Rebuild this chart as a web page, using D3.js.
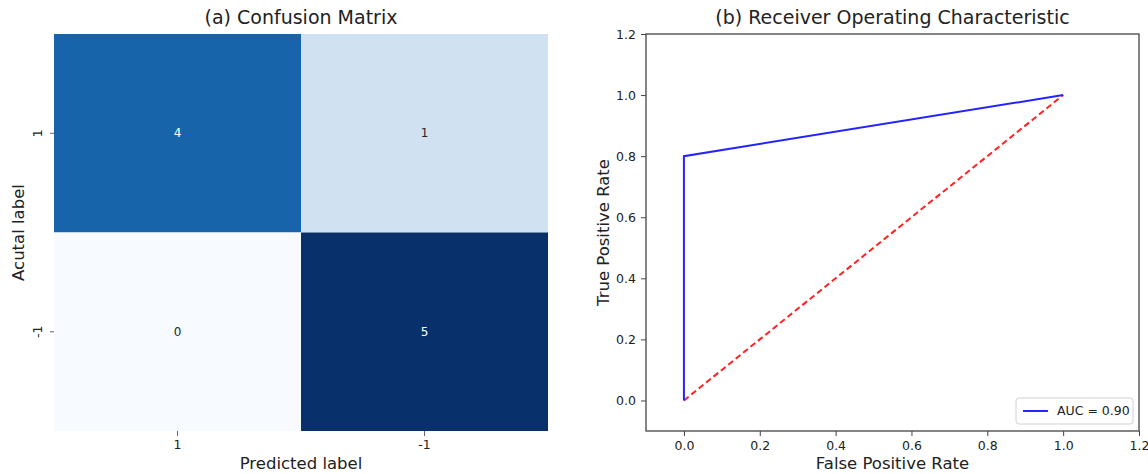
<!DOCTYPE html>
<html>
<head>
<meta charset="utf-8">
<script src="https://cdn.jsdelivr.net/npm/d3@7"></script>
<style>
  body { margin: 0; background: #fff; }
  svg { display: block; font-family: "DejaVu Sans", sans-serif; }
</style>
</head>
<body>
<svg id="chart" width="1148" height="474"></svg>
<script>
// confusion matrix data
const classLabels = ['1', '-1'];
const matrixValues = [
  [4, 1],
  [0, 5]
];

// ROC data
const fpr = [0.0, 0.0, 1.0];
const tpr = [0.0, 0.8, 1.0];
const chanceX = [0.0, 1.0];
const chanceY = [0.0, 1.0];
const rocTicks = [0.0, 0.2, 0.4, 0.6, 0.8, 1.0, 1.2];
const aucLabel = 'AUC = 0.90';

const svg = d3.select('#chart');
const textColor = '#222';

// ---------- (a) heatmap ----------
const hm = { left: 54, right: 548, top: 34, bottom: 431 };

const hx = d3.scaleBand().domain(classLabels).range([hm.left, hm.right]);
const hy = d3.scaleBand().domain(classLabels).range([hm.top, hm.bottom]);

// matplotlib "Blues" stops
const blues = ['#f7fbff', '#deebf7', '#c6dbef', '#9ecae1', '#6baed6', '#4292c6', '#2171b5', '#08519c', '#08306b'];
const maxVal = d3.max(matrixValues.flat());
const color = d3.scaleLinear()
  .domain(d3.range(blues.length).map(i => i / (blues.length - 1) * maxVal))
  .range(blues);

const cells = [];
matrixValues.forEach((row, i) => row.forEach((v, j) => cells.push({ r: classLabels[i], c: classLabels[j], v: v })));

const hmG = svg.append('g');

hmG.selectAll('rect')
  .data(cells)
  .enter().append('rect')
  .attr('x', d => hx(d.c))
  .attr('y', d => hy(d.r))
  .attr('width', hx.bandwidth())
  .attr('height', hy.bandwidth())
  .attr('fill', d => color(d.v));

hmG.selectAll('text.val')
  .data(cells)
  .enter().append('text')
  .attr('class', 'val')
  .attr('x', d => hx(d.c) + hx.bandwidth() / 2)
  .attr('y', d => hy(d.r) + hy.bandwidth() / 2)
  .attr('dy', '0.35em')
  .attr('text-anchor', 'middle')
  .attr('font-size', 12)
  .attr('fill', d => d.v / maxVal > 0.5 ? '#fff' : '#262626')
  .text(d => d.v);

// axes of the heatmap (no domain line)
const hxAxis = svg.append('g')
  .attr('transform', 'translate(0,' + hm.bottom + ')')
  .call(d3.axisBottom(hx).tickSize(5).tickPadding(4));
hxAxis.select('.domain').remove();

const hyAxis = svg.append('g')
  .attr('transform', 'translate(' + hm.left + ',0)')
  .call(d3.axisLeft(hy).tickSize(4).tickPadding(4));
hyAxis.select('.domain').remove();
hyAxis.selectAll('text')
  .attr('transform', 'rotate(-90)')
  .attr('text-anchor', 'middle')
  .attr('x', 0)
  .attr('y', 0)
  .attr('dy', 0)
  .each(function () {
    // move label to the left of its tick
    const t = d3.select(this);
    t.attr('transform', 'translate(-12,0) rotate(-90)');
  });

[hxAxis, hyAxis].forEach(a => {
  a.selectAll('text').attr('font-size', 12.5).attr('fill', textColor).attr('font-family', '"DejaVu Sans", sans-serif');
  a.selectAll('line').attr('stroke', '#666');
});

svg.append('text')
  .attr('x', (hm.left + hm.right) / 2)
  .attr('y', 24)
  .attr('text-anchor', 'middle')
  .attr('font-size', 19)
  .attr('fill', textColor)
  .text('(a) Confusion Matrix');

svg.append('text')
  .attr('x', (hm.left + hm.right) / 2)
  .attr('y', 469)
  .attr('text-anchor', 'middle')
  .attr('font-size', 16.5)
  .attr('fill', textColor)
  .text('Predicted label');

svg.append('text')
  .attr('transform', 'translate(24,' + ((hm.top + hm.bottom) / 2) + ') rotate(-90)')
  .attr('text-anchor', 'middle')
  .attr('font-size', 16.5)
  .attr('fill', textColor)
  .text('Acutal label');

// ---------- (b) ROC ----------
const roc = { left: 646, right: 1139, top: 34, bottom: 431 };

const x = d3.scaleLinear().domain([-0.1, 1.2]).range([roc.left, roc.right]);
const y = d3.scaleLinear().domain([-0.1, 1.2]).range([roc.bottom, roc.top]);

const rocG = svg.append('g');

const xAxis = rocG.append('g')
  .attr('transform', 'translate(0,' + roc.bottom + ')')
  .call(d3.axisBottom(x).tickValues(rocTicks).tickFormat(d3.format('.1f')).tickSize(5).tickPadding(5));
const yAxis = rocG.append('g')
  .attr('transform', 'translate(' + roc.left + ',0)')
  .call(d3.axisLeft(y).tickValues(rocTicks).tickFormat(d3.format('.1f')).tickSize(5).tickPadding(5));

[xAxis, yAxis].forEach(a => {
  a.select('.domain').remove();
  a.selectAll('text').attr('font-size', 12.5).attr('fill', textColor).attr('font-family', '"DejaVu Sans", sans-serif');
  a.selectAll('line').attr('stroke', '#444');
});

// frame
rocG.append('rect')
  .attr('x', roc.left)
  .attr('y', roc.top)
  .attr('width', roc.right - roc.left)
  .attr('height', roc.bottom - roc.top)
  .attr('fill', 'none')
  .attr('stroke', '#444')
  .attr('stroke-width', 1.3);

const line = d3.line()
  .x(d => x(d[0]))
  .y(d => y(d[1]));

// chance line
rocG.append('path')
  .datum(d3.zip(chanceX, chanceY))
  .attr('fill', 'none')
  .attr('stroke', '#ff2020')
  .attr('stroke-width', 2)
  .attr('stroke-dasharray', '6,3.5')
  .attr('d', line);

// ROC curve
rocG.append('path')
  .datum(d3.zip(fpr, tpr))
  .attr('fill', 'none')
  .attr('stroke', '#2424ff')
  .attr('stroke-width', 2)
  .attr('d', line);

// legend
const lg = rocG.append('g').attr('transform', 'translate(1016,398)');
lg.append('rect')
  .attr('width', 117)
  .attr('height', 26)
  .attr('rx', 3)
  .attr('fill', '#fff')
  .attr('stroke', '#d0d0d0');
lg.append('line')
  .attr('x1', 7).attr('x2', 32)
  .attr('y1', 13).attr('y2', 13)
  .attr('stroke', '#2424ff')
  .attr('stroke-width', 2);
lg.append('text')
  .attr('x', 41)
  .attr('y', 13)
  .attr('dy', '0.35em')
  .attr('font-size', 12.5)
  .attr('fill', textColor)
  .text(aucLabel);

svg.append('text')
  .attr('x', (roc.left + roc.right) / 2)
  .attr('y', 24)
  .attr('text-anchor', 'middle')
  .attr('font-size', 19)
  .attr('fill', textColor)
  .text('(b) Receiver Operating Characteristic');

svg.append('text')
  .attr('x', (roc.left + roc.right) / 2)
  .attr('y', 469)
  .attr('text-anchor', 'middle')
  .attr('font-size', 16.5)
  .attr('fill', textColor)
  .text('False Positive Rate');

svg.append('text')
  .attr('transform', 'translate(609,' + ((roc.top + roc.bottom) / 2) + ') rotate(-90)')
  .attr('text-anchor', 'middle')
  .attr('font-size', 16.5)
  .attr('fill', textColor)
  .text('True Positive Rate');
</script>
</body>
</html>
